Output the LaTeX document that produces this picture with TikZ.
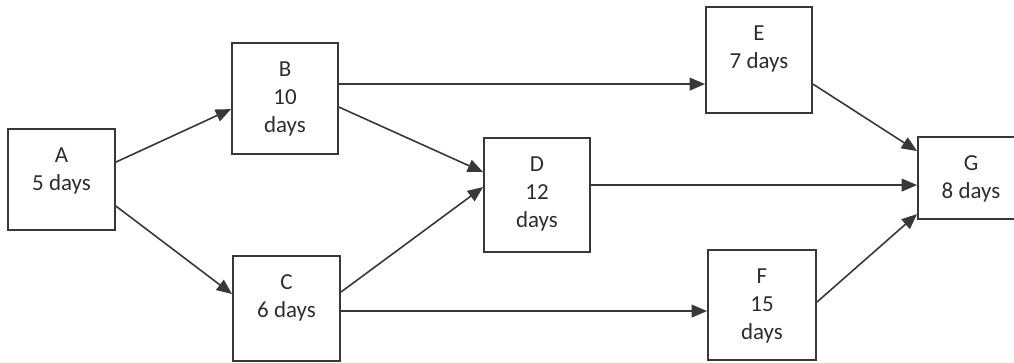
\documentclass[tikz,border=0pt]{standalone}
\usepackage{fontspec}
\setmainfont{Carlito}
\usetikzlibrary{arrows.meta,calc}
\definecolor{ink}{HTML}{383838}
\definecolor{txt}{HTML}{2E2E2E}
\begin{document}
\begin{tikzpicture}[x=0.75pt,y=-0.75pt,
  box/.style={draw=ink, line width=1.4pt, fill=white, inner sep=0pt},
  label text/.style={anchor=north, inner sep=0pt, align=center, text=txt,
    font=\fontsize{17.2}{21}\selectfont},
  conn/.style={draw=ink, line width=1.2pt, -{Triangle[length=11.5pt,width=9.5pt]}}]
\useasboundingbox (0,0) rectangle (1014,362);
\begin{scope}
\clip (0,0) rectangle (1014,362);
% activity boxes
\node[box, minimum width=107*0.75pt, minimum height=101*0.75pt] (A) at (61.5,179.5) {};
\node[box, minimum width=106*0.75pt, minimum height=111*0.75pt] (B) at (285,98.5) {};
\node[box, minimum width=107*0.75pt, minimum height=105*0.75pt] (C) at (286.5,308.5) {};
\node[box, minimum width=106*0.75pt, minimum height=114*0.75pt] (D) at (537,195) {};
\node[box, minimum width=106*0.75pt, minimum height=106*0.75pt] (E) at (759,60) {};
\node[box, minimum width=108*0.75pt, minimum height=110*0.75pt] (F) at (762,305) {};
\node[box, minimum width=106*0.75pt, minimum height=82*0.75pt] (G) at (971,178) {};
\end{scope}
% box texts
\node[label text] (At) at ($(A.north)+(0,15)$) {\strut A\\5 days};
\node[label text] (Bt) at ($(B.north)+(0,15)$) {\strut B\\10\\days};
\node[label text] (Ct) at ($(C.north)+(0,15)$) {\strut C\\6 days};
\node[label text] (Dt) at ($(D.north)+(0,15)$) {\strut D\\12\\days};
\node[label text] (Et) at ($(E.north)+(0,15)$) {\strut E\\7 days};
\node[label text] (Ft) at ($(F.north)+(0,15)$) {\strut F\\15\\days};
\node[label text] (Gt) at ($(G.north)+(0,15)$) {\strut G\\8 days};
% precedence arrows
\draw[conn] ($(A.north east)+(0,34)$) -- ($(B.north west)+(0,67)$);
\draw[conn] ($(A.north east)+(0,78)$) -- ($(C.north west)+(0,39)$);
\draw[conn] ($(B.north east)+(0,42)$) -- ($(E.north west)+(0,78)$);
\draw[conn] ($(B.north east)+(0,65)$) -- ($(D.north west)+(0,35)$);
\draw[conn] ($(C.north east)+(0,37)$) -- ($(D.north west)+(0,50)$);
\draw[conn] ($(C.north east)+(0,56)$) -- ($(F.north west)+(0,62)$);
\draw[conn] ($(D.north east)+(0,48)$) -- ($(G.north west)+(0,49)$);
\draw[conn] ($(E.north east)+(0,78)$) -- ($(G.north west)+(0,15)$);
\draw[conn] ($(F.north east)+(0,53)$) -- ($(G.north west)+(0,78)$);
\end{tikzpicture}
\end{document}
